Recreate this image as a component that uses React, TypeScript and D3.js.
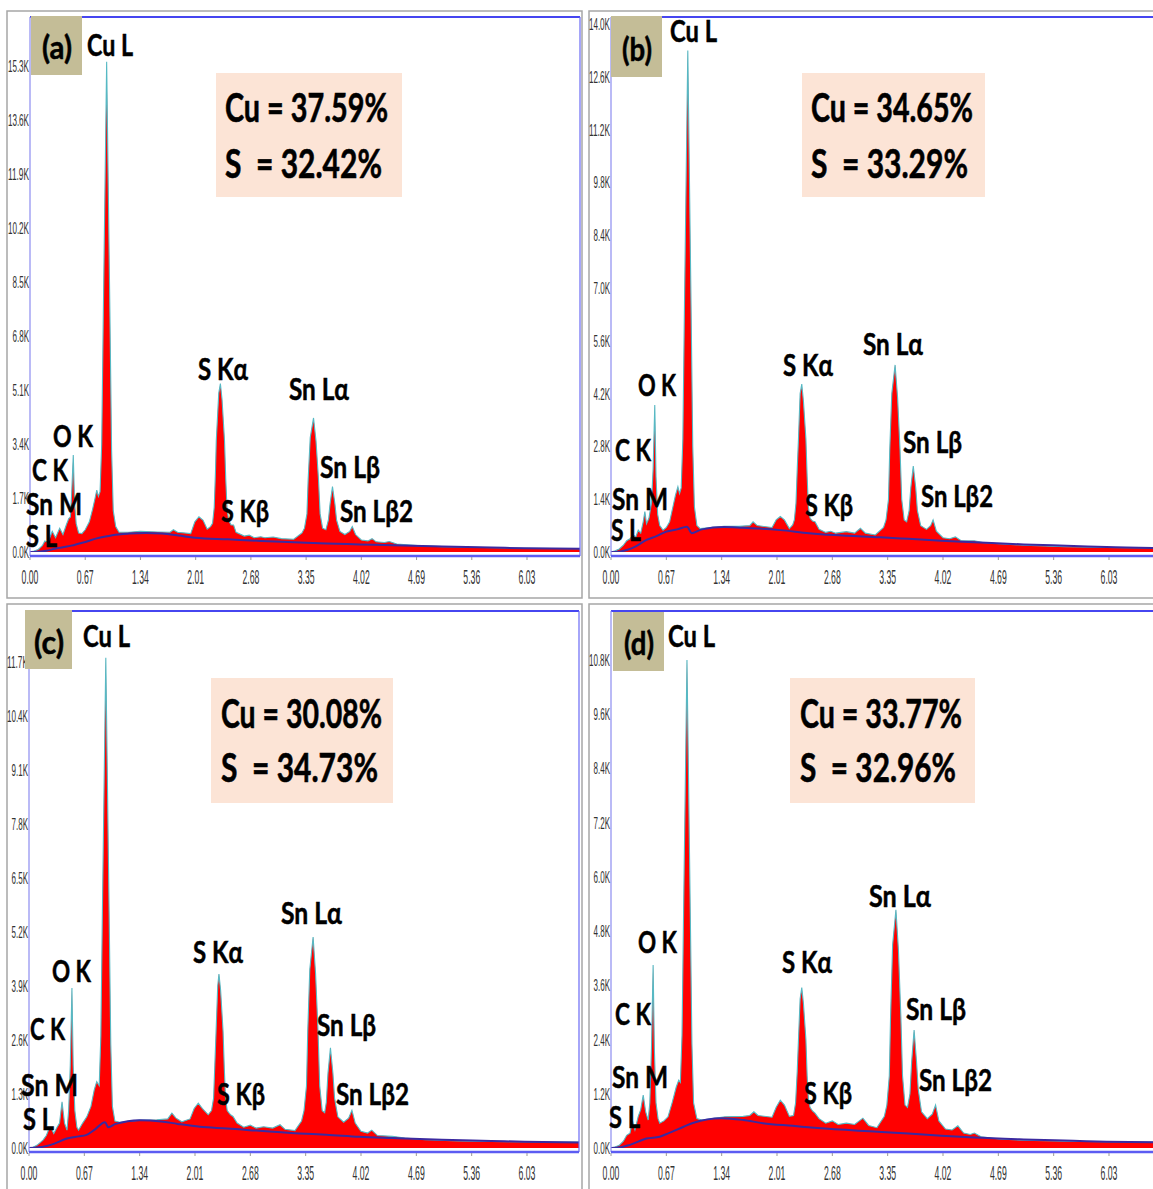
import React from 'react';
import * as d3 from 'd3';

type Pt = [number, number];

// ---------- DATA ----------
const xTickLabels = ['0.00', '0.67', '1.34', '2.01', '2.68', '3.35', '4.02', '4.69', '5.36', '6.03'];
const yTicksA = ['0.0K', '1.7K', '3.4K', '5.1K', '6.8K', '8.5K', '10.2K', '11.9K', '13.6K', '15.3K'];
const yTicksB = ['0.0K', '1.4K', '2.8K', '4.2K', '5.6K', '7.0K', '8.4K', '9.8K', '11.2K', '12.6K', '14.0K'];
const yTicksC = ['0.0K', '1.3K', '2.6K', '3.9K', '5.2K', '6.5K', '7.8K', '9.1K', '10.4K', '11.7K'];
const yTicksD = ['0.0K', '1.2K', '2.4K', '3.6K', '4.8K', '6.0K', '7.2K', '8.4K', '9.6K', '10.8K'];

const panelTags = ['(a)', '(b)', '(c)', '(d)'];
const compositionA = ['Cu = 37.59%', 'S  = 32.42%'];
const compositionB = ['Cu = 34.65%', 'S  = 33.29%'];
const compositionC = ['Cu = 30.08%', 'S  = 34.73%'];
const compositionD = ['Cu = 33.77%', 'S  = 32.96%'];
const peakNames = ['Cu L', 'O K', 'C K', 'Sn M', 'S L', 'S Kα', 'S Kβ', 'Sn Lα', 'Sn Lβ', 'Sn Lβ2'];

// [keV, kilo-counts]
const spectrumA: Pt[] = [[0.00,0],[0.05,0.03],[0.10,0.08],[0.15,0.2],[0.18,0.35],[0.22,0.3],[0.27,0.65],[0.31,0.45],[0.36,0.75],[0.40,0.55],[0.44,0.85],[0.47,1.05],[0.49,1.1],[0.505,1.8],[0.525,3.05],[0.54,1.6],[0.56,0.9],[0.59,0.6],[0.63,0.58],[0.67,0.7],[0.72,0.95],[0.76,1.35],[0.79,1.7],[0.81,1.95],[0.83,1.75],[0.85,1.9],[0.87,3.4],[0.89,7.6],[0.93,15.43],[0.97,7.4],[0.99,3.2],[1.01,1.3],[1.04,0.8],[1.08,0.62],[1.20,0.62],[1.34,0.65],[1.55,0.63],[1.70,0.62],[1.74,0.7],[1.79,0.62],[1.95,0.58],[2.00,0.95],[2.05,1.11],[2.10,1.0],[2.15,0.72],[2.19,0.8],[2.215,0.9],[2.235,1.4],[2.25,2.5],[2.26,3.5],[2.29,5.0],[2.31,5.3],[2.33,4.8],[2.36,3.5],[2.375,2.3],[2.39,1.4],[2.41,1.0],[2.44,0.85],[2.47,0.85],[2.50,0.62],[2.60,0.5],[2.66,0.53],[2.72,0.45],[2.80,0.48],[2.85,0.45],[2.95,0.47],[3.05,0.42],[3.20,0.4],[3.30,0.6],[3.33,0.75],[3.36,1.2],[3.375,2.3],[3.40,3.6],[3.44,4.22],[3.47,3.5],[3.50,2.3],[3.52,1.2],[3.55,0.75],[3.59,0.7],[3.62,1.0],[3.64,1.5],[3.67,2.06],[3.70,1.5],[3.72,1.0],[3.76,0.65],[3.82,0.55],[3.88,0.65],[3.91,0.8],[3.95,0.55],[4.02,0.38],[4.10,0.35],[4.15,0.42],[4.20,0.32],[4.30,0.3],[4.36,0.33],[4.45,0.25],[4.70,0.2],[5.00,0.17],[5.50,0.14],[6.00,0.12],[6.75,0.1]];
const backgroundA: Pt[] = [[0,0],[0.1,0.01],[0.2,0.04],[0.3,0.1],[0.4,0.15],[0.5,0.2],[0.6,0.27],[0.7,0.34],[0.8,0.42],[0.9,0.48],[1.0,0.53],[1.2,0.58],[1.4,0.6],[1.6,0.58],[1.8,0.52],[2.0,0.45],[2.4,0.4],[2.8,0.35],[3.2,0.31],[3.6,0.27],[4.0,0.24],[4.4,0.21],[5.0,0.17],[5.6,0.14],[6.0,0.12],[6.75,0.1]];

const spectrumB: Pt[] = [[0,0],[0.05,0.03],[0.10,0.08],[0.15,0.18],[0.19,0.3],[0.23,0.35],[0.27,0.45],[0.30,0.4],[0.33,0.58],[0.36,0.5],[0.39,0.8],[0.41,1.07],[0.43,0.75],[0.46,0.9],[0.49,1.3],[0.51,2.2],[0.53,3.9],[0.545,2.0],[0.565,1.0],[0.59,0.7],[0.63,0.58],[0.67,0.65],[0.71,0.8],[0.75,1.2],[0.78,1.5],[0.81,1.73],[0.83,1.55],[0.85,1.7],[0.87,3.0],[0.89,6.6],[0.93,13.3],[0.97,6.4],[0.99,2.8],[1.01,1.2],[1.04,0.7],[1.08,0.62],[1.37,0.68],[1.55,0.68],[1.68,0.7],[1.72,0.8],[1.77,0.7],[1.95,0.65],[2.00,0.85],[2.05,0.94],[2.10,0.85],[2.16,0.62],[2.20,0.72],[2.22,0.85],[2.24,1.3],[2.255,2.2],[2.27,3.0],[2.29,4.2],[2.31,4.45],[2.33,4.0],[2.36,3.0],[2.375,2.0],[2.39,1.2],[2.41,0.9],[2.44,0.82],[2.47,0.8],[2.52,0.6],[2.60,0.52],[2.66,0.55],[2.72,0.5],[2.85,0.54],[2.95,0.5],[3.02,0.63],[3.08,0.5],[3.20,0.45],[3.30,0.65],[3.33,0.85],[3.36,1.4],[3.375,2.7],[3.40,4.2],[3.44,4.96],[3.47,4.1],[3.50,2.7],[3.52,1.4],[3.55,0.85],[3.58,0.8],[3.61,1.1],[3.63,1.7],[3.66,2.28],[3.69,1.7],[3.71,1.1],[3.75,0.7],[3.82,0.6],[3.87,0.7],[3.90,0.85],[3.94,0.55],[4.02,0.38],[4.10,0.35],[4.17,0.4],[4.24,0.3],[4.40,0.3],[4.50,0.25],[4.70,0.22],[5.00,0.18],[5.50,0.14],[6.00,0.12],[6.75,0.1]];
const backgroundB: Pt[] = [[0,0],[0.1,0.01],[0.2,0.06],[0.3,0.15],[0.43,0.32],[0.55,0.42],[0.67,0.54],[0.8,0.6],[0.92,0.67],[0.98,0.5],[1.1,0.6],[1.37,0.66],[1.6,0.64],[1.8,0.62],[2.05,0.58],[2.4,0.5],[2.7,0.45],[3.26,0.39],[3.6,0.35],[4.0,0.3],[4.4,0.26],[5.0,0.2],[5.6,0.16],[6.0,0.13],[6.75,0.1]];

const spectrumC: Pt[] = [[0,0],[0.05,0.02],[0.10,0.07],[0.17,0.19],[0.21,0.3],[0.24,0.45],[0.27,0.47],[0.30,0.35],[0.34,0.5],[0.37,0.6],[0.40,1.11],[0.43,0.6],[0.46,0.43],[0.48,0.9],[0.50,2.0],[0.52,3.85],[0.535,2.0],[0.555,0.9],[0.58,0.5],[0.60,0.43],[0.65,0.6],[0.70,0.75],[0.75,1.0],[0.79,1.4],[0.82,1.6],[0.85,1.5],[0.87,2.7],[0.89,5.9],[0.93,11.8],[0.97,5.7],[0.99,2.5],[1.01,1.0],[1.04,0.65],[1.10,0.62],[1.34,0.67],[1.55,0.68],[1.68,0.7],[1.73,0.84],[1.78,0.72],[1.85,0.63],[1.95,0.7],[2.00,0.95],[2.05,1.08],[2.10,0.95],[2.17,0.8],[2.21,0.9],[2.235,1.2],[2.25,2.0],[2.265,2.8],[2.285,3.9],[2.30,4.19],[2.32,3.8],[2.35,2.8],[2.365,1.9],[2.38,1.2],[2.40,0.9],[2.44,0.8],[2.47,0.76],[2.52,0.6],[2.60,0.5],[2.68,0.55],[2.75,0.48],[2.84,0.51],[2.95,0.48],[3.04,0.56],[3.10,0.45],[3.22,0.42],[3.30,0.65],[3.33,0.9],[3.36,1.5],[3.375,2.8],[3.40,4.3],[3.44,5.08],[3.47,4.2],[3.50,2.8],[3.52,1.5],[3.55,0.9],[3.58,0.85],[3.60,1.1],[3.62,1.8],[3.65,2.41],[3.68,1.8],[3.70,1.2],[3.74,0.75],[3.81,0.62],[3.87,0.72],[3.91,0.91],[3.95,0.6],[4.02,0.4],[4.10,0.36],[4.15,0.43],[4.22,0.3],[4.40,0.28],[4.55,0.24],[4.80,0.2],[5.20,0.17],[5.80,0.15],[6.75,0.14]];
const backgroundC: Pt[] = [[0,0],[0.1,0.01],[0.2,0.04],[0.3,0.1],[0.46,0.23],[0.6,0.28],[0.69,0.31],[0.8,0.45],[0.92,0.62],[0.96,0.5],[1.05,0.58],[1.34,0.67],[1.6,0.64],[1.8,0.58],[2.07,0.51],[2.4,0.47],[2.67,0.43],[3.27,0.35],[3.6,0.32],[4.0,0.27],[4.4,0.24],[5.0,0.2],[5.6,0.17],[6.0,0.15],[6.75,0.13]];

const spectrumD: Pt[] = [[0,0],[0.05,0.02],[0.10,0.06],[0.15,0.15],[0.19,0.28],[0.23,0.33],[0.26,0.6],[0.29,0.4],[0.33,0.7],[0.36,0.85],[0.39,1.17],[0.42,0.8],[0.45,0.62],[0.47,1.0],[0.49,2.2],[0.51,4.05],[0.525,2.2],[0.545,1.0],[0.57,0.65],[0.59,0.55],[0.64,0.6],[0.69,0.69],[0.74,1.0],[0.79,1.35],[0.82,1.5],[0.84,1.45],[0.86,2.5],[0.88,5.4],[0.92,10.8],[0.96,5.2],[0.98,2.3],[1.00,1.0],[1.04,0.65],[1.10,0.62],[1.38,0.69],[1.60,0.7],[1.68,0.72],[1.73,0.8],[1.78,0.72],[1.95,0.68],[2.00,0.9],[2.05,1.06],[2.10,0.95],[2.16,0.7],[2.21,0.72],[2.235,1.0],[2.255,1.7],[2.27,2.4],[2.29,3.3],[2.31,3.55],[2.33,3.2],[2.36,2.4],[2.375,1.6],[2.39,1.1],[2.41,0.9],[2.44,0.82],[2.47,0.77],[2.52,0.65],[2.60,0.55],[2.68,0.6],[2.75,0.52],[2.85,0.55],[2.95,0.52],[3.05,0.66],[3.12,0.5],[3.22,0.45],[3.31,0.7],[3.34,0.95],[3.37,1.6],[3.385,2.9],[3.41,4.5],[3.45,5.27],[3.48,4.4],[3.51,2.9],[3.53,1.6],[3.56,0.95],[3.59,0.9],[3.62,1.2],[3.64,1.9],[3.67,2.61],[3.70,1.9],[3.72,1.3],[3.76,0.8],[3.83,0.65],[3.89,0.75],[3.93,0.95],[3.97,0.6],[4.05,0.42],[4.13,0.4],[4.20,0.49],[4.27,0.33],[4.35,0.3],[4.40,0.33],[4.48,0.25],[4.70,0.2],[5.00,0.17],[5.50,0.15],[6.00,0.14],[6.75,0.13]];
const backgroundD: Pt[] = [[0,0],[0.1,0.01],[0.23,0.07],[0.43,0.21],[0.59,0.25],[0.7,0.33],[0.88,0.47],[1.0,0.56],[1.34,0.66],[1.6,0.62],[1.84,0.55],[2.2,0.49],[2.5,0.44],[3.23,0.36],[3.6,0.32],[4.0,0.27],[4.4,0.23],[5.0,0.19],[5.6,0.16],[6.0,0.14],[6.75,0.12]];

// ---------- LAYOUT ----------
type LabelPos = Record<string, [number, number, number]>; // x, baseline, width
interface PanelLayout {
  frame: [number, number, number, number];
  plot: { l: number; t: number; r: number; b: number };
  xRange: [number, number];
  yRange: [number, number];
  tagBox: [number, number, number, number];
  tagText: [number, number];
  compBox: [number, number, number, number];
  compLines: [number, number, number][];
  labels: LabelPos;
}

const LAYOUT: PanelLayout[] = [
  {
    frame: [7, 11, 575, 587], plot: { l: 30, t: 17, r: 580, b: 556 },
    xRange: [30, 527], yRange: [552, 66],
    tagBox: [31, 16, 51, 59], tagText: [57, 59],
    compBox: [216, 73, 186, 124], compLines: [[225, 122, 163], [225, 178, 157]],
    labels: {
      'Cu L': [87, 56, 46], 'O K': [53, 447, 40], 'C K': [32, 481, 36], 'Sn M': [26, 515, 56], 'S L': [26, 547, 31],
      'S Kα': [198, 380, 50], 'S Kβ': [221, 522, 48], 'Sn Lα': [289, 400, 60], 'Sn Lβ': [320, 478, 60], 'Sn Lβ2': [340, 522, 73],
    },
  },
  {
    frame: [589, 11, 580, 587], plot: { l: 611, t: 17, r: 1161, b: 556 },
    xRange: [611, 1109], yRange: [552, 24],
    tagBox: [611, 16, 51, 61], tagText: [637, 61],
    compBox: [802, 73, 183, 124], compLines: [[811, 122, 162], [811, 178, 157]],
    labels: {
      'Cu L': [670, 42, 47], 'O K': [638, 396, 38], 'C K': [615, 461, 36], 'Sn M': [612, 510, 56], 'S L': [611, 541, 30],
      'S Kα': [783, 376, 50], 'S Kβ': [805, 516, 48], 'Sn Lα': [863, 355, 60], 'Sn Lβ': [903, 453, 59], 'Sn Lβ2': [921, 507, 72],
    },
  },
  {
    frame: [7, 604, 575, 590], plot: { l: 29, t: 611, r: 579, b: 1152 },
    xRange: [29, 527], yRange: [1148, 662],
    tagBox: [25, 610, 47, 59], tagText: [49, 654],
    compBox: [211, 678, 182, 125], compLines: [[221, 728, 161], [221, 782, 157]],
    labels: {
      'Cu L': [83, 647, 47], 'O K': [52, 982, 39], 'C K': [30, 1040, 35], 'Sn M': [21, 1096, 57], 'S L': [23, 1130, 31],
      'S Kα': [193, 963, 50], 'S Kβ': [217, 1105, 48], 'Sn Lα': [281, 924, 61], 'Sn Lβ': [317, 1036, 59], 'Sn Lβ2': [336, 1105, 73],
    },
  },
  {
    frame: [589, 604, 580, 590], plot: { l: 611, t: 611, r: 1161, b: 1152 },
    xRange: [611, 1109], yRange: [1148, 660],
    tagBox: [613, 612, 51, 59], tagText: [639, 655],
    compBox: [790, 678, 185, 125], compLines: [[800, 728, 162], [800, 782, 156]],
    labels: {
      'Cu L': [668, 647, 47], 'O K': [638, 953, 39], 'C K': [615, 1025, 36], 'Sn M': [612, 1088, 56], 'S L': [609, 1128, 31],
      'S Kα': [782, 973, 50], 'S Kβ': [804, 1104, 48], 'Sn Lα': [869, 907, 62], 'Sn Lβ': [906, 1020, 60], 'Sn Lβ2': [919, 1091, 73],
    },
  },
];

const spectra = [spectrumA, spectrumB, spectrumC, spectrumD];
const backgrounds = [backgroundA, backgroundB, backgroundC, backgroundD];
const yTickSets = [yTicksA, yTicksB, yTicksC, yTicksD];
const compositions = [compositionA, compositionB, compositionC, compositionD];

const LABEL_FONT = 'Lato, "Open Sans", sans-serif';
const TICK_FONT = '"Liberation Sans Narrow", "Liberation Sans", sans-serif';

function charWidth(s: string, digit: number, dot: number, k: number) {
  let w = 0;
  for (const c of s) w += c === '.' ? dot : c === 'K' ? k : digit;
  return w;
}

function Panel({ idx }: { idx: number }) {
  const L = LAYOUT[idx];
  const x = d3.scaleLinear().domain([0, parseFloat(xTickLabels[xTickLabels.length - 1])]).range(L.xRange);
  const yt = yTickSets[idx];
  const y = d3.scaleLinear().domain([0, parseFloat(yt[yt.length - 1])]).range(L.yRange);
  const base = y(0);
  const area = d3.area<Pt>().x(d => x(d[0])).y0(base).y1(d => y(d[1])).curve(d3.curveLinear);
  const line = d3.line<Pt>().x(d => x(d[0])).y(d => y(d[1])).curve(d3.curveLinear);
  const bgLine = d3.line<Pt>().x(d => x(d[0])).y(d => y(d[1])).curve(d3.curveMonotoneX);
  const clipId = `clip-${idx}`;
  const { l, t, r, b } = L.plot;
  return (
    <g>
      <rect x={L.frame[0]} y={L.frame[1]} width={L.frame[2]} height={L.frame[3]} fill="#fff" stroke="#a6a6a6" strokeWidth={1.5} />
      <defs>
        <clipPath id={clipId}>
          <rect x={l} y={t} width={r - l} height={base - t} />
        </clipPath>
      </defs>
      <g clipPath={`url(#${clipId})`}>
        <path d={area(spectra[idx]) || ''} fill="#ff0000" />
        <path d={line(spectra[idx]) || ''} fill="none" stroke="#56b9c4" strokeWidth={1.1} />
        <path d={bgLine(backgrounds[idx]) || ''} fill="none" stroke="#3b2aa0" strokeWidth={2} />
      </g>
      <line x1={l} x2={r} y1={t} y2={t} stroke="#4646f0" strokeWidth={2} />
      <line x1={l} x2={l} y1={t} y2={b} stroke="#8c8cf0" strokeWidth={1.2} />
      <line x1={r} x2={r} y1={t} y2={b} stroke="#6a6af5" strokeWidth={1.2} />
      <line x1={l} x2={r} y1={b} y2={b} stroke="#5c5cf2" strokeWidth={2.4} />
      {yt.map(s => (
        <text key={s} x={l - 1} y={y(parseFloat(s)) + 6} textAnchor="end" fontFamily={TICK_FONT} fontSize={16}
          fill="#333" textLength={charWidth(s, 4.6, 2.3, 5)} lengthAdjust="spacingAndGlyphs">{s}</text>
      ))}
      {xTickLabels.map(s => {
        const px = x(parseFloat(s));
        const w = charWidth(s, 4.8, 2.5, 5);
        return (
          <g key={s}>
            <line x1={px} x2={px} y1={b + 1} y2={b + 4} stroke="#999" strokeWidth={1} />
            <text x={px - w / 2} y={b + 28} fontFamily={TICK_FONT} fontSize={21} fill="#333"
              textLength={w} lengthAdjust="spacingAndGlyphs">{s}</text>
          </g>
        );
      })}
      <rect x={L.tagBox[0]} y={L.tagBox[1]} width={L.tagBox[2]} height={L.tagBox[3]} fill="#c4bd97" />
      <text x={L.tagText[0] - 15} y={L.tagText[1]} fontFamily={LABEL_FONT} fontWeight={700} fontSize={32} fill="#000"
        stroke="#000" strokeWidth={0.5} textLength={30} lengthAdjust="spacingAndGlyphs">{panelTags[idx]}</text>
      <rect x={L.compBox[0]} y={L.compBox[1]} width={L.compBox[2]} height={L.compBox[3]} fill="#fce4d6" />
      {compositions[idx].map((s, i) => (
        <text key={i} x={L.compLines[i][0]} y={L.compLines[i][1]} fontFamily={LABEL_FONT} fontWeight={700} fontSize={41}
          fill="#000" stroke="#000" strokeWidth={0.6} style={{ whiteSpace: 'pre' }} textLength={L.compLines[i][2]}
          lengthAdjust="spacingAndGlyphs">{s}</text>
      ))}
      {peakNames.map(n => {
        const p = L.labels[n];
        return (
          <text key={n} x={p[0]} y={p[1]} fontFamily={LABEL_FONT} fontWeight={700} fontSize={31} fill="#000"
            stroke="#000" strokeWidth={0.5} textLength={p[2]} lengthAdjust="spacingAndGlyphs">{n}</text>
        );
      })}
    </g>
  );
}

export default function App() {
  return (
    <svg width={1153} height={1189} viewBox="0 0 1153 1189"
      style={{ position: 'absolute', left: 0, top: 0, background: '#fff', display: 'block' }}>
      <rect x={0} y={0} width={1153} height={1189} fill="#fff" />
      {[0, 1, 2, 3].map(i => <Panel key={i} idx={i} />)}
    </svg>
  );
}
